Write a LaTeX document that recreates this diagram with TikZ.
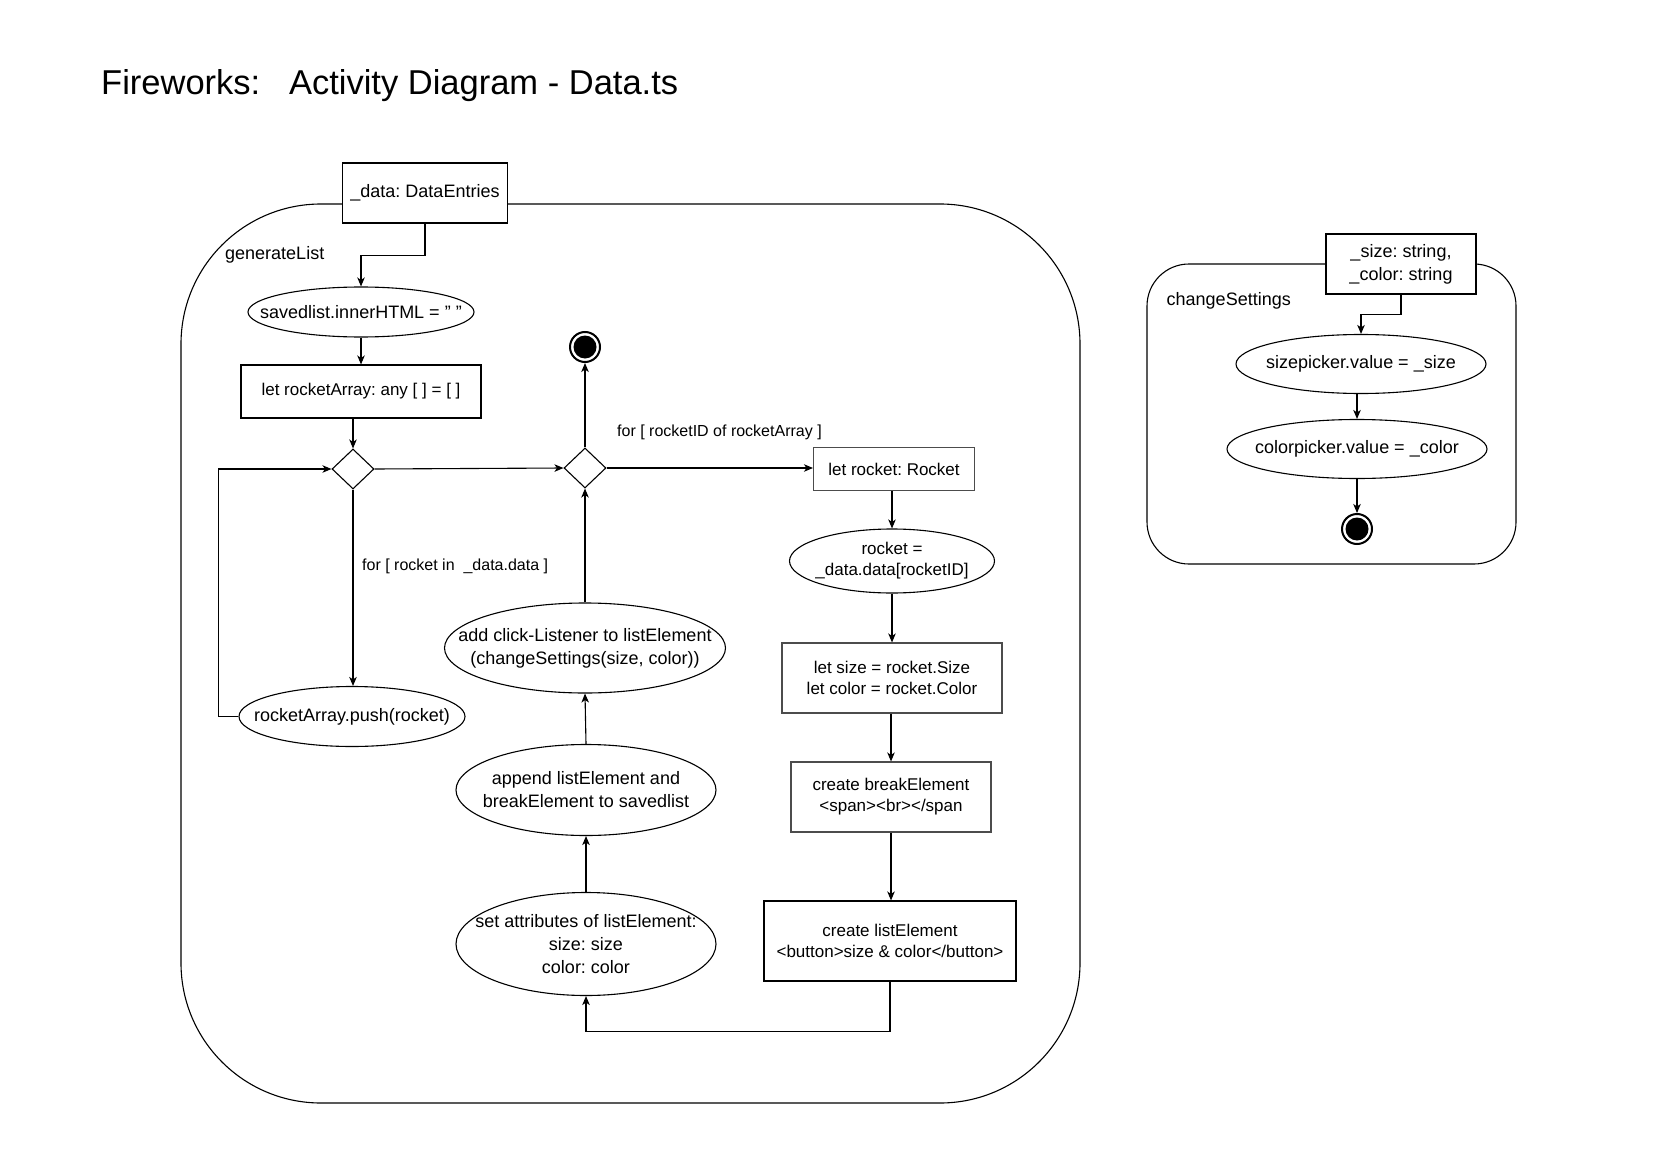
\documentclass[tikz,border=0pt]{standalone}
\usepackage{fontspec}
\setmainfont{Liberation Sans}
\usetikzlibrary{shapes.geometric,arrows.meta}
\frenchspacing
\newcommand{\fA}{\fontsize{17}{21}\selectfont}
\newcommand{\fB}{\fontsize{18}{23}\selectfont}
\newcommand{\fL}{\fontsize{16}{20}\selectfont}
\newcommand{\fT}{\fontsize{34.5}{40}\selectfont}
\begin{document}
\begin{tikzpicture}[x=1pt,y=-1pt,
  container/.style={draw, line width=1.1pt, inner sep=0},
  actbox/.style={draw, line width=1.1pt, fill=white, inner sep=0, align=center, font=\fA},
  parbox/.style={draw, line width=1.1pt, fill=white, inner sep=0, align=center, font=\fB},
  actell/.style={ellipse, draw, line width=1.1pt, fill=white, inner sep=0},
  elltext/.style={align=center, font=\fB, inner sep=0},
  decision/.style={diamond, draw, line width=1.1pt, fill=white, inner sep=0, minimum width=42, minimum height=40},
  finalnode/.style={circle, draw, line width=2pt, fill=white, inner sep=0, minimum size=30,
    path picture={\fill[black] (path picture bounding box.center) circle (11.5);}},
  flow/.style={draw, line width=1.1pt, -{Stealth[length=9pt,width=7.5pt,inset=2.5pt]}},
  guard/.style={font=\fL, anchor=west, inner sep=0},
  titletext/.style={font=\fT, anchor=west, inner sep=0},
  cname/.style={font=\fB, anchor=west, inner sep=0}
]
\useasboundingbox[fill=white] (0,0) rectangle (1654,1169);

% title
\node[titletext] (title) at (101,86) {Fireworks:\ \ \ Activity Diagram - Data.ts};

% containers
\node[container, rounded corners=140, minimum width=899, minimum height=899] (gen) at (630.5,653.5) {};
\node[container, rounded corners=42, minimum width=369, minimum height=300] (chg) at (1331.5,414) {};
\node[cname] (genname) at (225,255) {generateList};
\node[cname] (chgname) at (1166.5,301) {changeSettings};

% generateList nodes
\node[parbox, minimum width=165, minimum height=60] (data) at (425,193) {\_data: DataEntries};
\node[actell, minimum width=226, minimum height=50,
  label={[elltext]center:{savedlist.innerHTML = " "}}] (saved) at (361,312) {};
\node[actbox, minimum width=240, minimum height=53] (rarr) at (361,391.5) {let rocketArray: any [ ] = [ ]};
\node[decision] (d1) at (353,469) {};
\node[actell, minimum width=226, minimum height=60,
  label={[elltext]center:{rocketArray.push(rocket)}}] (push) at (352,716.5) {};
\node[finalnode] (fin1) at (585,347) {};
\node[decision] (d2) at (585,468) {};
\node[actbox, draw=black!70, minimum width=161, minimum height=43] (lr) at (894,469) {let rocket: Rocket};
\node[actell, minimum width=205, minimum height=64,
  label={[elltext, font=\fA]center:{rocket =\\\_data.data[rocketID]}}] (re) at (892,561) {};
\node[actbox, draw=black!70, minimum width=220, minimum height=70] (ls) at (892,678) {let size = rocket.Size\\let color = rocket.Color};
\node[actbox, draw=black!70, minimum width=200, minimum height=70] (br) at (891,797) {create breakElement\\<span><br></span};
\node[actbox, minimum width=252, minimum height=80] (li) at (890,941) {create listElement\\<button>size \& color</button>};
\node[actell, minimum width=260, minimum height=103,
  label={[elltext]center:{set attributes of listElement:\\size: size\\color: color}}] (set) at (586,944) {};
\node[actell, minimum width=260, minimum height=91,
  label={[elltext]center:{append listElement and\\breakElement to savedlist}}] (app) at (586,790) {};
\node[actell, minimum width=281, minimum height=90,
  label={[elltext]center:{add click-Listener to listElement\\(changeSettings(size, color))}}] (add) at (585,648) {};

% guards
\node[guard] (g1) at (362,566) {for [ rocket in \ \_data.data ]};
\node[guard] (g2) at (617,432) {for [ rocketID of rocketArray ]};

% changeSettings nodes
\node[parbox, minimum width=150, minimum height=60] (par) at (1401,264) {\_size: string,\\\_color: string};
\node[actell, minimum width=250, minimum height=59,
  label={[elltext]center:{sizepicker.value = \_size}}] (sp) at (1361,364) {};
\node[actell, minimum width=260, minimum height=59,
  label={[elltext]center:{colorpicker.value = \_color}}] (cp) at (1357,449) {};
\node[finalnode] (fin2) at (1357,529) {};

% connectors
\draw[flow] (data.south) -- ++(0,32) -| (saved.north);
\draw[flow] (saved.south) -- (rarr.north);
\draw[flow] (rarr.south -| d1.north) -- (d1.north);
\draw[flow] (d1.east) -- (d2.west);
\draw[flow] (d1.south) -- (push.north -| d1.south);
\draw[flow] (push.west) -- ++(-20,0) |- (d1.west);
\draw[flow] (d2.north) -- (fin1.south);
\draw[flow] (d2.east) -- (lr.west |- d2.east);
\draw[flow] (lr.south -| re.north) -- (re.north);
\draw[flow] (re.south) -- (ls.north);
\draw[flow] (ls.south -| br.north) -- (br.north);
\draw[flow] (br.south) -- (li.north -| br.south);
\draw[flow] (li.south) -- ++(0,50) -| (set.south);
\draw[flow] (set.north) -- (app.south);
\draw[flow] (app.north) -- (add.south);
\draw[flow] (add.north -| d2.south) -- (d2.south);
\draw[flow] (par.south) -- ++(0,20) -| (sp.north);
\draw[flow] (sp.south -| cp.north) -- (cp.north);
\draw[flow] (cp.south) -- (fin2.north);
\end{tikzpicture}
\end{document}
